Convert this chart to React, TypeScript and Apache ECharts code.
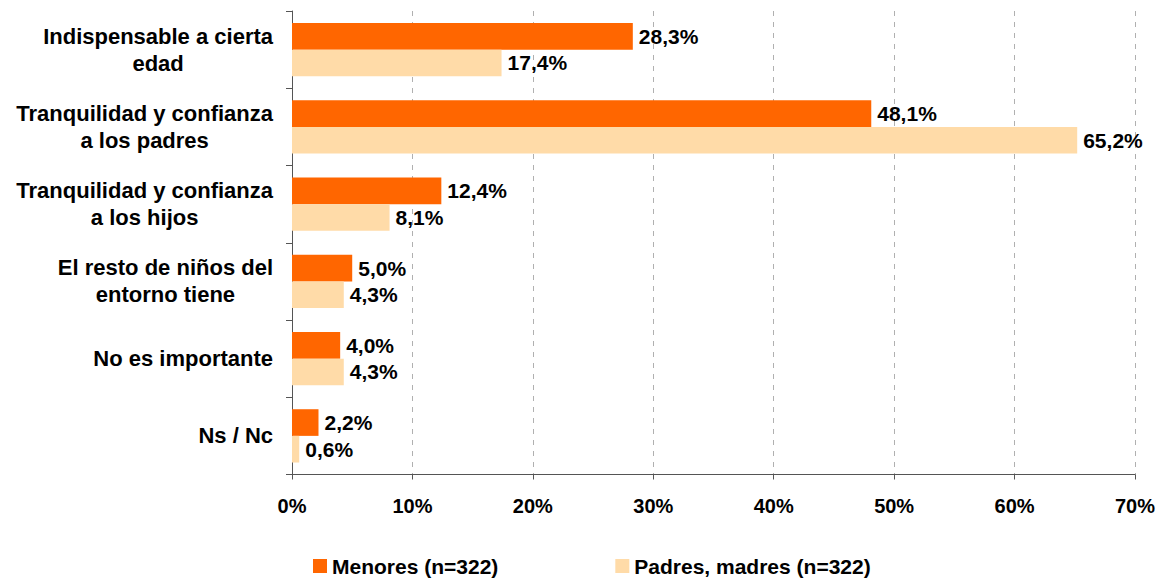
import React, { useEffect, useRef } from "react";
import * as echarts from "echarts";

const categories = [
  "Indispensable a cierta\nedad",
  "Tranquilidad y confianza\na los padres",
  "Tranquilidad y confianza\na los hijos",
  "El resto de niños del\nentorno tiene",
  "No es importante",
  "Ns / Nc",
];
const menores = [28.3, 48.1, 12.4, 5.0, 4.0, 2.2];
const padres = [17.4, 65.2, 8.1, 4.3, 4.3, 0.6];
const seriesNames = ["Menores (n=322)", "Padres, madres (n=322)"];
const xTicks = [0, 10, 20, 30, 40, 50, 60, 70];

const FONT = "'Liberation Sans', Arial, sans-serif";

export default function App() {
  const ref = useRef<HTMLDivElement>(null);
  useEffect(() => {
    if (!ref.current) return;
    const chart = echarts.init(ref.current, null, { renderer: "svg" });
    const fmt = (v: number) => v.toFixed(1).replace(".", ",") + "%";
    const valueLabel = {
      show: true,
      position: "right",
      distance: 6,
      formatter: (p: any) => fmt(p.value),
      fontFamily: FONT,
      fontSize: 21,
      fontWeight: "bold",
      color: "#000",
    };
    chart.setOption({
      animation: false,
      textStyle: { fontFamily: FONT },
      grid: { left: 292, right: 30, top: 11, bottom: 105.5, containLabel: false },
      legend: {
        left: 313,
        top: 555,
        padding: 0,
        itemWidth: 14,
        itemHeight: 14,
        itemGap: 117,
        icon: "rect",
        textStyle: { fontFamily: FONT, fontSize: 21, fontWeight: "bold", color: "#000", lineHeight: 22 },
        data: seriesNames,
      },
      xAxis: {
        type: "value",
        min: xTicks[0],
        max: xTicks[xTicks.length - 1],
        interval: 10,
        axisLine: { show: true, lineStyle: { color: "#555", width: 1 } },
        axisTick: { show: true, length: 5, lineStyle: { color: "#555" } },
        splitLine: { show: true, lineStyle: { color: "#b0b0b0", type: [5, 6], width: 1 } },
        axisLabel: {
          formatter: (v: number) => v + "%",
          fontFamily: FONT,
          fontSize: 20,
          fontWeight: "bold",
          color: "#000",
          margin: 21,
        },
      },
      yAxis: {
        type: "category",
        inverse: true,
        data: categories,
        axisLine: { show: true, lineStyle: { color: "#555", width: 1 } },
        axisTick: { show: true, length: 6, lineStyle: { color: "#555" } },
        splitLine: { show: false },
        axisLabel: {
          margin: 19,
          align: "right",
          formatter: (v: string) => v.split("\n").map((l) => "{a|" + l + "}").join("\n"),
          rich: {
            a: {
              fontFamily: FONT,
              fontSize: 22,
              fontWeight: "bold",
              color: "#000",
              align: "center",
              lineHeight: 27,
            },
          },
        },
      },
      series: [
        {
          name: seriesNames[0],
          type: "bar",
          data: menores,
          itemStyle: { color: "#FF6600" },
          barGap: "0%",
          barCategoryGap: "31%",
          label: valueLabel,
        },
        {
          name: seriesNames[1],
          type: "bar",
          data: padres,
          itemStyle: { color: "#FFDBA8" },
          barGap: "0%",
          barCategoryGap: "31%",
          label: valueLabel,
        },
      ],
    });
    return () => chart.dispose();
  }, []);
  return (
    <div
      ref={ref}
      style={{ position: "absolute", left: 0, top: 0, width: 1165, height: 580, background: "#fff" }}
    />
  );
}
